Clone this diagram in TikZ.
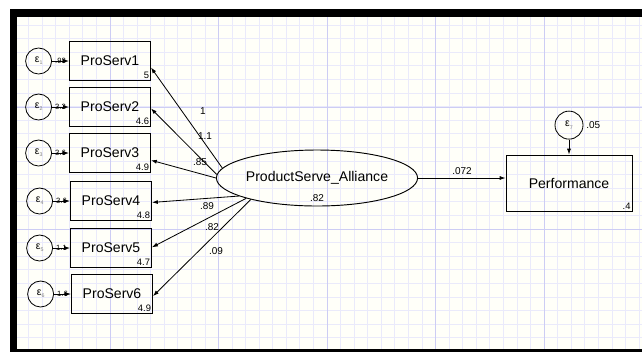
\documentclass[tikz,border=0pt]{standalone}
\usepackage{fontspec}
\setmainfont{Liberation Sans}
\usetikzlibrary{positioning,calc}
\usetikzlibrary{arrows.meta}
\usetikzlibrary{shapes.geometric}
\definecolor{gridminor}{RGB}{234,234,251}
\definecolor{gridmajor}{RGB}{205,205,244}
\definecolor{paper}{RGB}{255,255,249}
\tikzset{
   obs/.style={draw,line width=0.8pt,minimum width=2.43cm,minimum height=1.17cm,inner sep=0pt,font=\fontsize{12}{14}\selectfont},
   latent/.style={draw,ellipse,line width=0.8pt,minimum width=4.8cm,minimum height=1.68cm,inner sep=0pt,font=\fontsize{12}{14}\selectfont},
   err/.style={draw,circle,line width=0.7pt,minimum size=0.78cm,inner sep=0pt,font=\fontsize{9}{10}\selectfont},
   regpath/.style={-{Latex[length=5pt,width=3.5pt]},line width=0.7pt},
   coef/.style={font=\fontsize{8.5}{10}\selectfont,inner sep=0pt},
   cons/.style={font=\fontsize{8}{9}\selectfont,inner sep=1.5pt,anchor=south east},
   errvar/.style={font=\fontsize{6.5}{7}\selectfont,inner sep=0pt},
}
\newcommand{\errlab}[1]{ε\raisebox{-0.4ex}{\color{gray}\fontsize{4.5}{5}\selectfont #1}}

\begin{document}
\begin{tikzpicture}[x=0.03cm,y=-0.03cm]
      \useasboundingbox (0,0) rectangle (642,352);

      \begin{scope}
         \clip (17,17) rectangle (642,349);
         \fill[paper] (17,17) rectangle (642,349);
         \foreach \k in {0,...,47}
            \draw[gridminor,line width=0.6pt] ({1.3+13.57*\k},17) -- ({1.3+13.57*\k},349);
         \foreach \k in {-1,...,24}
            \draw[gridminor,line width=0.6pt] (17,{25+13.6*\k}) -- (642,{25+13.6*\k});
         \foreach \k in {1,...,5}
            \draw[gridmajor,line width=0.6pt] ({1.3+108.6*\k},17) -- ({1.3+108.6*\k},349);
         \foreach \y in {107,229}
            \draw[gridmajor,line width=0.6pt] (17,\y) -- (642,\y);
      \end{scope}
      \fill[black] (10,9) rectangle (642,17);
      \fill[black] (10,9) rectangle (17,352);
      \fill[black] (10,349) rectangle (642,352);

      \node[latent] (alliance) at (317,178) {ProductServe\_Alliance};
      \node[coef] (a82) at (317,198) {.82};

      \node[obs,minimum width=3.78cm,minimum height=1.68cm] (perf) at (569,183) {Performance};
      \node[cons] (c7) at (perf.south east) {.4};
      \node[err,minimum size=0.84cm,above=0.45cm of perf] (e7) {\errlab{7}};
      \node[coef,right=0.08cm of e7] (v7) {.05};

      \node[obs] (ps1) at (110,61) {ProServ1};
      \node[obs] (ps2) at (110,107) {ProServ2};
      \node[obs] (ps3) at (110,153) {ProServ3};
      \node[obs] (ps4) at (111,201) {ProServ4};
      \node[obs] (ps5) at (111,248) {ProServ5};
      \node[obs] (ps6) at (112,294) {ProServ6};

      \node[cons] (c1) at (ps1.south east) {5};
      \node[cons] (c2) at (ps2.south east) {4.6};
      \node[cons] (c3) at (ps3.south east) {4.9};
      \node[cons] (c4) at (ps4.south east) {4.8};
      \node[cons] (c5) at (ps5.south east) {4.7};
      \node[cons] (c6) at (ps6.south east) {4.9};

      \node[err,left=0.51cm of ps1] (e1) {\errlab{1}};
      \node[err,left=0.51cm of ps2] (e2) {\errlab{2}};
      \node[err,left=0.51cm of ps3] (e3) {\errlab{3}};
      \node[err,left=0.51cm of ps4] (e4) {\errlab{4}};
      \node[err,left=0.51cm of ps5] (e5) {\errlab{5}};
      \node[err,left=0.51cm of ps6] (e6) {\errlab{6}};

      \draw[regpath] (e1) -- node[errvar] (v1) {.98} (ps1);
      \draw[regpath] (e2) -- node[errvar] (v2) {3.2} (ps2);
      \draw[regpath] (e3) -- node[errvar] (v3) {3.6} (ps3);
      \draw[regpath] (e4) -- node[errvar] (v4) {3.6} (ps4);
      \draw[regpath] (e5) -- node[errvar] (v5) {1.1} (ps5);
      \draw[regpath] (e6) -- node[errvar] (v6) {1.6} (ps6);

      \draw[regpath] (alliance.174) -- (ps1.-9);
      \draw[regpath] (alliance.178) -- (ps2.-2);
      \draw[regpath] (alliance.180) -- (ps3.-10);
      \draw[regpath] (alliance.193) -- (ps4.-2);
      \draw[regpath] (alliance.196) -- (ps5.1);
      \draw[regpath] (alliance.198) -- (ps6.-3);

      \node[coef] (w1) at (203,111) {1};
      \node[coef] (w2) at (205,136) {1.1};
      \node[coef] (w3) at (200,162) {.85};
      \node[coef] (w4) at (207,206) {.89};
      \node[coef] (w5) at (212,227) {.82};
      \node[coef] (w6) at (216,251) {.09};

      \draw[regpath] (alliance.east) -- (alliance.east -| perf.west);
      \node[coef] (w7) at (462,171) {.072};
      \draw[regpath] (e7.south) -- (e7.south |- perf.north);
   \end{tikzpicture}
\end{document}
